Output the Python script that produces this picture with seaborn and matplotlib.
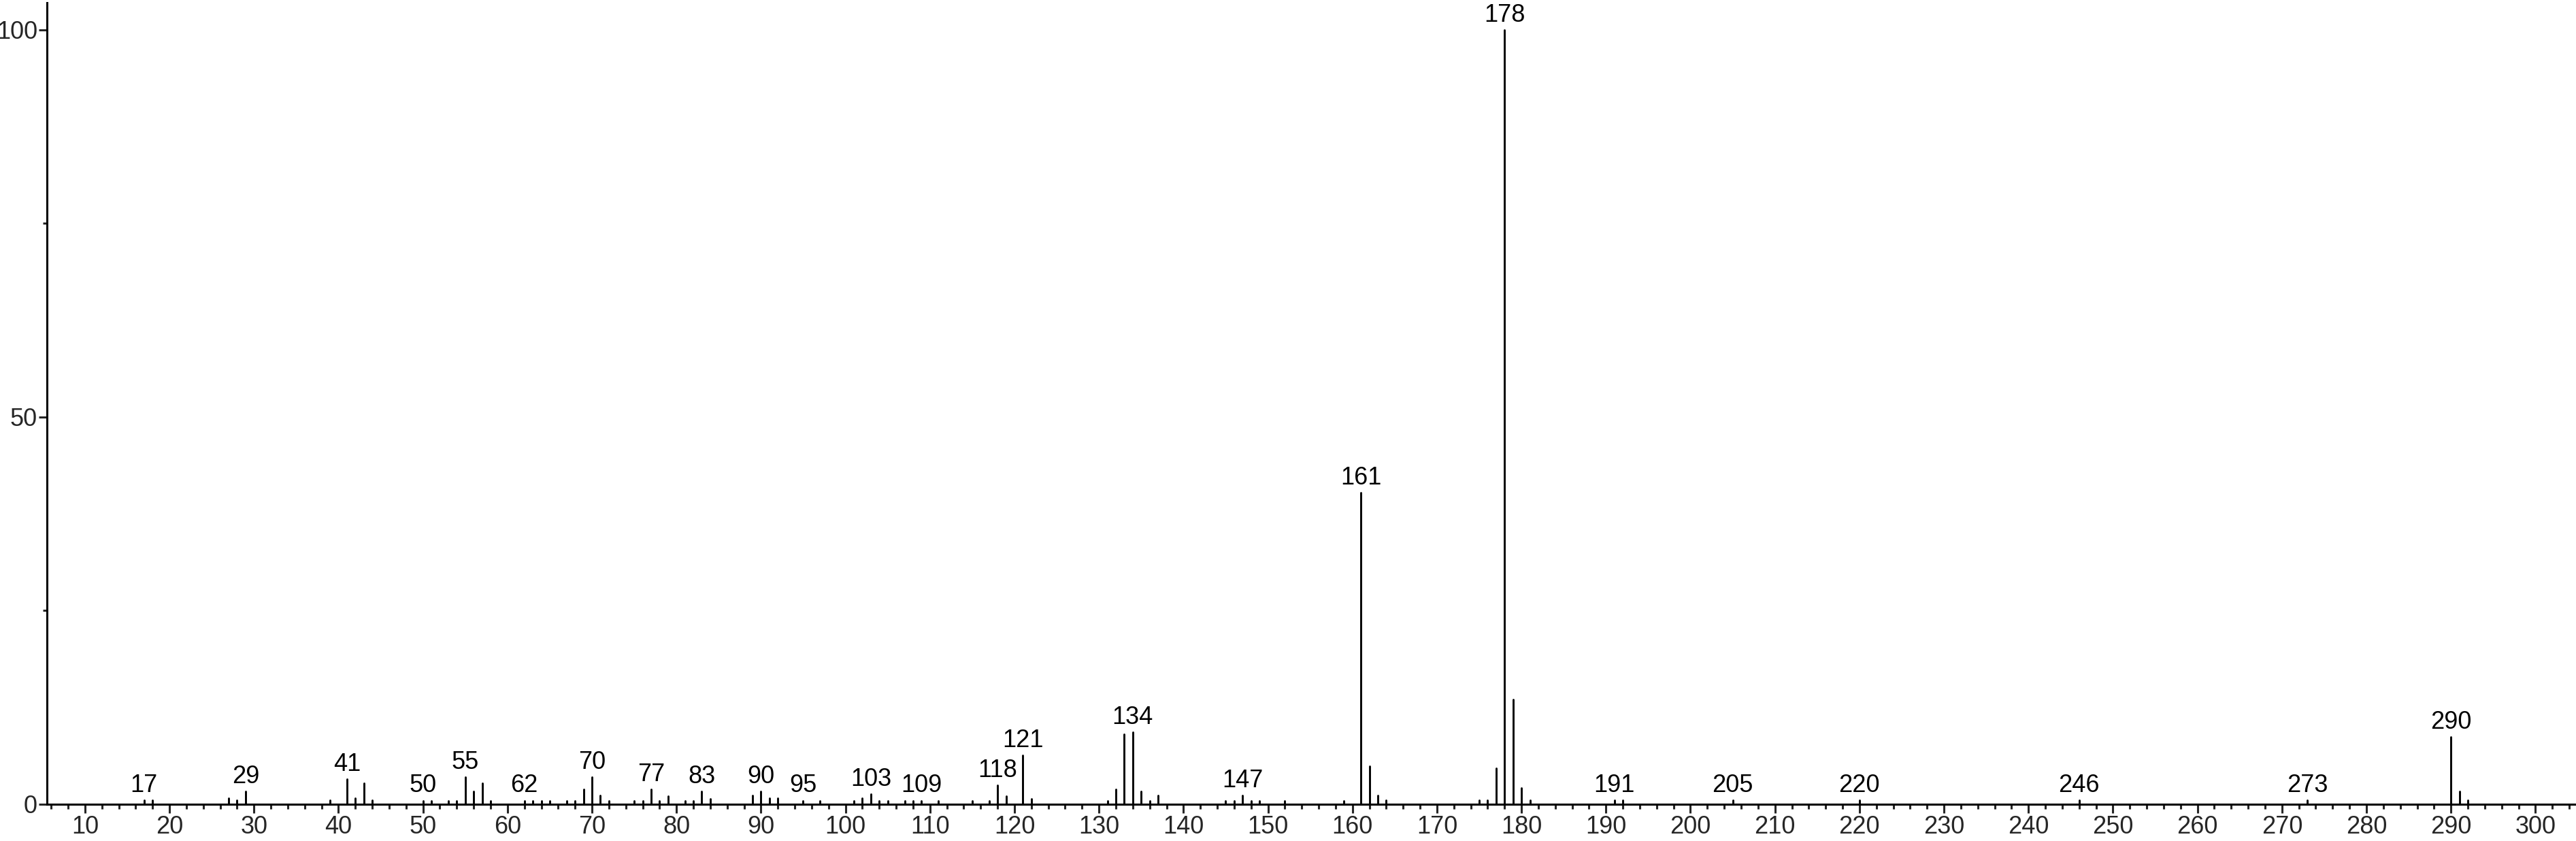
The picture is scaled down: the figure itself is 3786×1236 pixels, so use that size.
import numpy as np
import pandas as pd
import matplotlib
matplotlib.use("Agg")
import matplotlib.pyplot as plt
import seaborn as sns
from matplotlib.ticker import MultipleLocator, FixedLocator

# ---- data (m/z, relative intensity) ----
mz = [17, 18, 27, 28, 29, 39, 41, 42, 43, 44,
      50, 51, 53, 54, 55, 56, 57, 58, 62, 63,
      64, 65, 67, 68, 69, 70, 71, 72, 75, 76,
      77, 78, 79, 81, 82, 83, 84, 89, 90, 91,
      92, 95, 97, 101, 102, 103, 104, 105, 107, 108,
      109, 111, 115, 117, 118, 119, 121, 122, 131, 132,
      133, 134, 135, 136, 137, 145, 146, 147, 148, 149,
      152, 159, 161, 162, 163, 164, 175, 176, 177, 178,
      179, 180, 181, 191, 192, 205, 220, 246, 273, 290,
      291, 292]
intensity = [0.5, 0.5, 0.8, 0.5, 1.6, 0.5, 3.2, 0.8, 2.7, 0.5,
             0.45, 0.45, 0.45, 0.45, 3.5, 1.6, 2.7, 0.45, 0.45, 0.45,
             0.4, 0.45, 0.4, 0.4, 1.9, 3.5, 1.1, 0.45, 0.45, 0.45,
             1.9, 0.45, 1.0, 0.45, 0.45, 1.6, 0.7, 1.1, 1.6, 0.8,
             0.8, 0.45, 0.45, 0.45, 0.8, 1.3, 0.45, 0.45, 0.45, 0.45,
             0.45, 0.45, 0.45, 0.45, 2.4, 1.0, 6.3, 0.7, 0.45, 1.9,
             9.0, 9.3, 1.6, 0.45, 1.1, 0.45, 0.45, 1.1, 0.45, 0.45,
             0.4, 0.45, 40.2, 4.9, 1.1, 0.5, 0.5, 0.5, 4.6, 100.0,
             13.5, 2.1, 0.5, 0.5, 0.5, 0.5, 0.5, 0.5, 0.5, 8.7,
             1.6, 0.5]
labeled_mz = [17, 29, 41, 50, 55, 62, 70, 77, 83, 90, 95, 103, 109,
              118, 121, 134, 147, 161, 178, 191, 205, 220, 246, 273, 290]
x_ticks = list(range(10, 301, 10))
y_ticks = [0, 50, 100]

# ---- build stem table ----
peaks = pd.DataFrame({"mz": mz, "intensity": intensity})
stems = pd.concat([
    peaks.assign(y=0.0, peak=peaks.index),
    peaks.assign(y=peaks["intensity"], peak=peaks.index),
]).sort_values(["peak", "y"])

sns.set_style("white")
plt.rcParams["font.family"] = ["Liberation Sans", "DejaVu Sans"]

W, H = 3786, 1236
fig = plt.figure(figsize=(W / 100, H / 100), dpi=100)
left_px, bottom_px, top_px = 69, 1236 - 1181.7, 1236 - 4
ax = fig.add_axes([left_px / W, bottom_px / H, 1 - left_px / W, (top_px - bottom_px) / H])

sns.lineplot(data=stems, x="mz", y="y", units="peak", estimator=None,
             sort=False, color="black", linewidth=2.1, ax=ax)

ax.set_xlim(5.5, 304.8)
ax.set_ylim(0, 103.5)

for m in labeled_mz:
    v = peaks.loc[peaks["mz"] == m, "intensity"].iloc[0]
    ax.annotate(str(m), xy=(m, v), xytext=(0, 3), textcoords="offset points",
                ha="center", va="bottom", fontsize=26, color="black")

# axes styling
for s in ["top", "right"]:
    ax.spines[s].set_visible(False)
for s in ["left", "bottom"]:
    ax.spines[s].set_linewidth(2.2)
    ax.spines[s].set_color("black")

ax.xaxis.set_major_locator(FixedLocator(x_ticks))
ax.xaxis.set_minor_locator(MultipleLocator(2))
ax.yaxis.set_major_locator(FixedLocator(y_ticks))
ax.yaxis.set_minor_locator(FixedLocator([25, 75]))
ax.tick_params(axis="x", which="major", direction="out", length=9, width=2.2,
               labelsize=26, pad=3, bottom=True)
ax.tick_params(axis="x", which="minor", direction="out", length=5, width=2.2, bottom=True)
ax.tick_params(axis="y", which="major", direction="out", length=9, width=2.2,
               labelsize=26, pad=1, left=True)
ax.tick_params(axis="y", which="minor", direction="out", length=4.5, width=2.2, left=True)
ax.set_xlabel("")
ax.set_ylabel("")
ax.grid(False)

fig.savefig("out.png", dpi=100)
